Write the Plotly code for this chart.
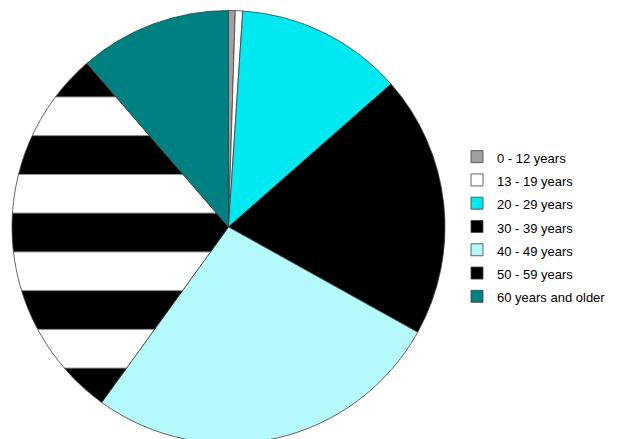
import plotly.graph_objects as go

labels = ["0 - 12 years", "13 - 19 years", "20 - 29 years", "30 - 39 years",
          "40 - 49 years", "50 - 59 years", "60 years and older"]
values = [0.5, 0.55, 12.47, 19.56, 26.88, 28.69, 11.35]
colors = ["#A0A0A0", "#FFFFFF", "#00E8F0", "#000000", "#B4FAFA", "#000000", "#008080"]
patterns = ["", "", "", "", "", "-", ""]

W, H = 619, 444
cx, cy, r = 228.5, 227.0, 216.5

legend_labels = ['<span style="font-size:13px">%s</span>' % t for t in labels]

fig = go.Figure(go.Pie(
    labels=legend_labels,
    values=values,
    sort=False,
    direction="clockwise",
    rotation=0,
    textinfo="none",
    hoverinfo="label+percent",
    marker=dict(
        colors=colors,
        line=dict(color="#404040", width=0.8),
        pattern=dict(shape=patterns, fgcolor="#FFFFFF", bgcolor="#000000",
                     size=77.5, solidity=0.5, fillmode="replace"),
    ),
    domain=dict(x=[(cx - r) / W, (cx + r) / W],
                y=[1 - (cy + r) / H, 1 - (cy - r) / H]),
))

fig.update_layout(
    width=W, height=H,
    margin=dict(l=0, r=0, t=0, b=0),
    paper_bgcolor="#FFFFFF",
    plot_bgcolor="#FFFFFF",
    font=dict(family="Liberation Sans, Arial, sans-serif", size=13, color="#000000"),
    showlegend=True,
    legend=dict(x=457 / W, y=1 - 140 / H, xanchor="left", yanchor="top",
                bgcolor="rgba(0,0,0,0)", font=dict(size=15.6)),
)

fig.write_html("out.html",
               post_script="document.documentElement.style.overflow='hidden';"
                           "document.body.style.overflow='hidden';"
                           "document.body.style.margin='0';")
